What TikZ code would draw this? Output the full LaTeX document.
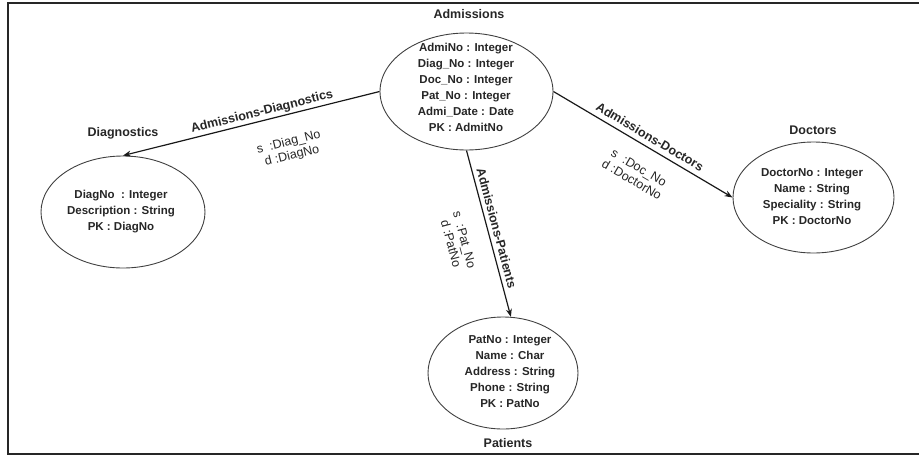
\documentclass[tikz,border=0pt]{standalone}
\usepackage{fontspec}
\setmainfont{Liberation Sans}
\usetikzlibrary{arrows.meta,shapes.geometric}
\begin{document}
\begin{tikzpicture}[x=1pt,y=1pt,
   entity/.style={ellipse,draw=black!75,line width=0.9pt,inner sep=0pt},
   attrs/.style={align=center,text=black!85,inner sep=0pt,font=\bfseries\fontsize{11.5}{16}\selectfont},
   title/.style={text=black!85,font=\bfseries\fontsize{12.5}{15}\selectfont},
   rel/.style={line width=1.2pt,black!90,>={Stealth[length=8pt,width=6pt]}},
   reltext/.style={sloped,inner sep=1pt,text=black!85,font=\bfseries\fontsize{12.5}{15}\selectfont},
   relkey/.style={sloped,align=center,inner sep=1pt,text=black!85,font=\fontsize{12.5}{14}\selectfont}]
   \useasboundingbox (0,0) rectangle (919,-456);
   \draw [black!85,line width=1.6pt] (919,-3) -- (8,-3) -- (8,-454) -- (919,-454);
   \node [entity,minimum width=173,minimum height=117] (adm) at (466.5,-91.5) {};
   \node [entity,minimum width=164,minimum height=112] (diag) at (123,-212) {};
   \node [entity,minimum width=161,minimum height=111] (doc) at (813.5,-197.5) {};
   \node [entity,minimum width=150,minimum height=112] (pat) at (503,-373) {};
   \node [title] (admtitle) at (469,-14) {Admissions};
   \node [title] (diagtitle) at (123,-133) {Diagnostics};
   \node [title] (doctitle) at (813,-130) {Doctors};
   \node [title] (pattitle) at (508,-443) {Patients};
   \node [attrs] (admattr) at (466,-87) {AdmiNo : Integer\\Diag\_No : Integer\\Doc\_No : Integer\\Pat\_No : Integer\\Admi\_Date : Date\\PK : AdmitNo};
   \node [attrs] (diagattr) at (121,-212) {DiagNo \ : Integer\\Description : String\\PK : DiagNo};
   \node [attrs] (docattr) at (812,-197) {DoctorNo : Integer\\Name : String\\Speciality : String\\PK : DoctorNo};
   \node [attrs] (patattr) at (510,-372) {PatNo : Integer\\Name : Char\\Address : String\\Phone : String\\PK : PatNo};
   \draw [rel,<-] (diag.north) -- node [reltext,pos=.55,above=1pt] {Admissions-Diagnostics}
    node [relkey,pos=.62,below=20pt] {s \ :Diag\_No\\d :DiagNo} (adm.west);
   \draw [rel,->] (adm.east) -- node [reltext,pos=.51,above=4pt] {Admissions-Doctors}
    node [relkey,pos=.54,below=16pt] {s \ :Doc\_No\\d :DoctorNo} (doc.west);
   \draw [rel,->] (adm.south) -- node [reltext,pos=.48,above=3pt] {Admissions-Patients}
    node [relkey,pos=.5,below=19pt] {s \ :Pat\_No\\d :PatNo} (pat.82);
\end{tikzpicture}
\end{document}
